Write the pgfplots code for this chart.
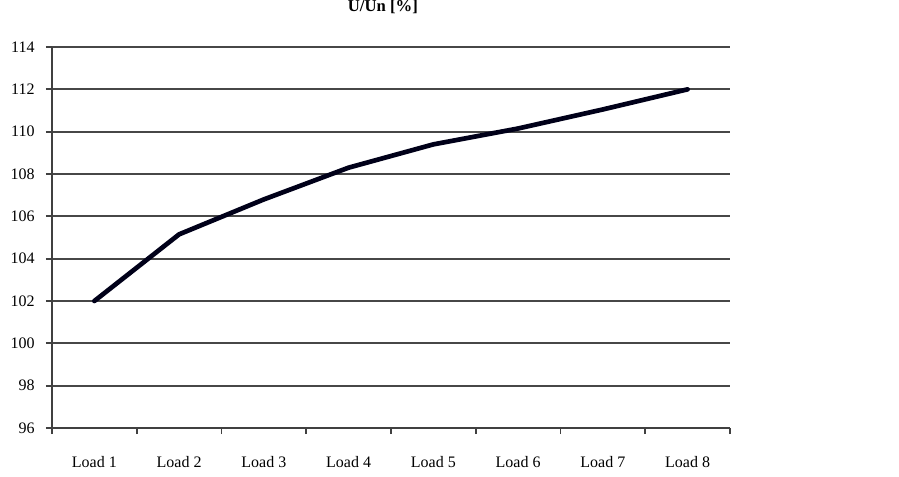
\documentclass[border=0pt]{standalone}
\usepackage{fontspec}
\setmainfont{Liberation Serif}
\usepackage{pgfplots}
\pgfplotsset{compat=1.18}

\begin{document}
\begin{tikzpicture}
\path[use as bounding box] (-39pt,-36pt) rectangle (635.25pt,321pt);
\begin{axis}[
    at={(0,0)}, anchor=south west,
    scale only axis,
    width=508.5pt, height=285.75pt,
    xmin=0.5, xmax=8.5,
    ymin=96, ymax=114,
    ytick={96,98,...,114},
    xtick={0.5,1.5,...,8.5},
    xticklabels={Load 1,Load 2,Load 3,Load 4,Load 5,Load 6,Load 7,Load 8},
    x tick label as interval,
    axis x line*=bottom, axis y line*=left,
    axis line style={draw=black!75, line width=1.3pt, -},
    tick align=outside,
    major tick length=4.5pt,
    tick style={draw=black!75, line width=1.3pt},
    ymajorgrids,
    grid style={draw=black!72, line width=1.3pt},
    tick label style={font=\fontsize{12}{14}\selectfont},
    /pgf/number format/assume math mode=true,
    xticklabel style={yshift=-13pt},
    yticklabel style={xshift=-5pt},
    title={\textbf{U/Un [\%]}},
    title style={at={(0.488,1)}, anchor=center, yshift=24pt, font=\fontsize{12.5}{14}\selectfont},
]
\addplot[color=black!90!blue, line width=3.5pt, line join=round, line cap=round, mark=none] coordinates {
    (1,102.0) (2,105.15) (3,106.8) (4,108.3) (5,109.4) (6,110.15) (7,111.05) (8,112.0)
};
\end{axis}
\end{tikzpicture}
\end{document}
